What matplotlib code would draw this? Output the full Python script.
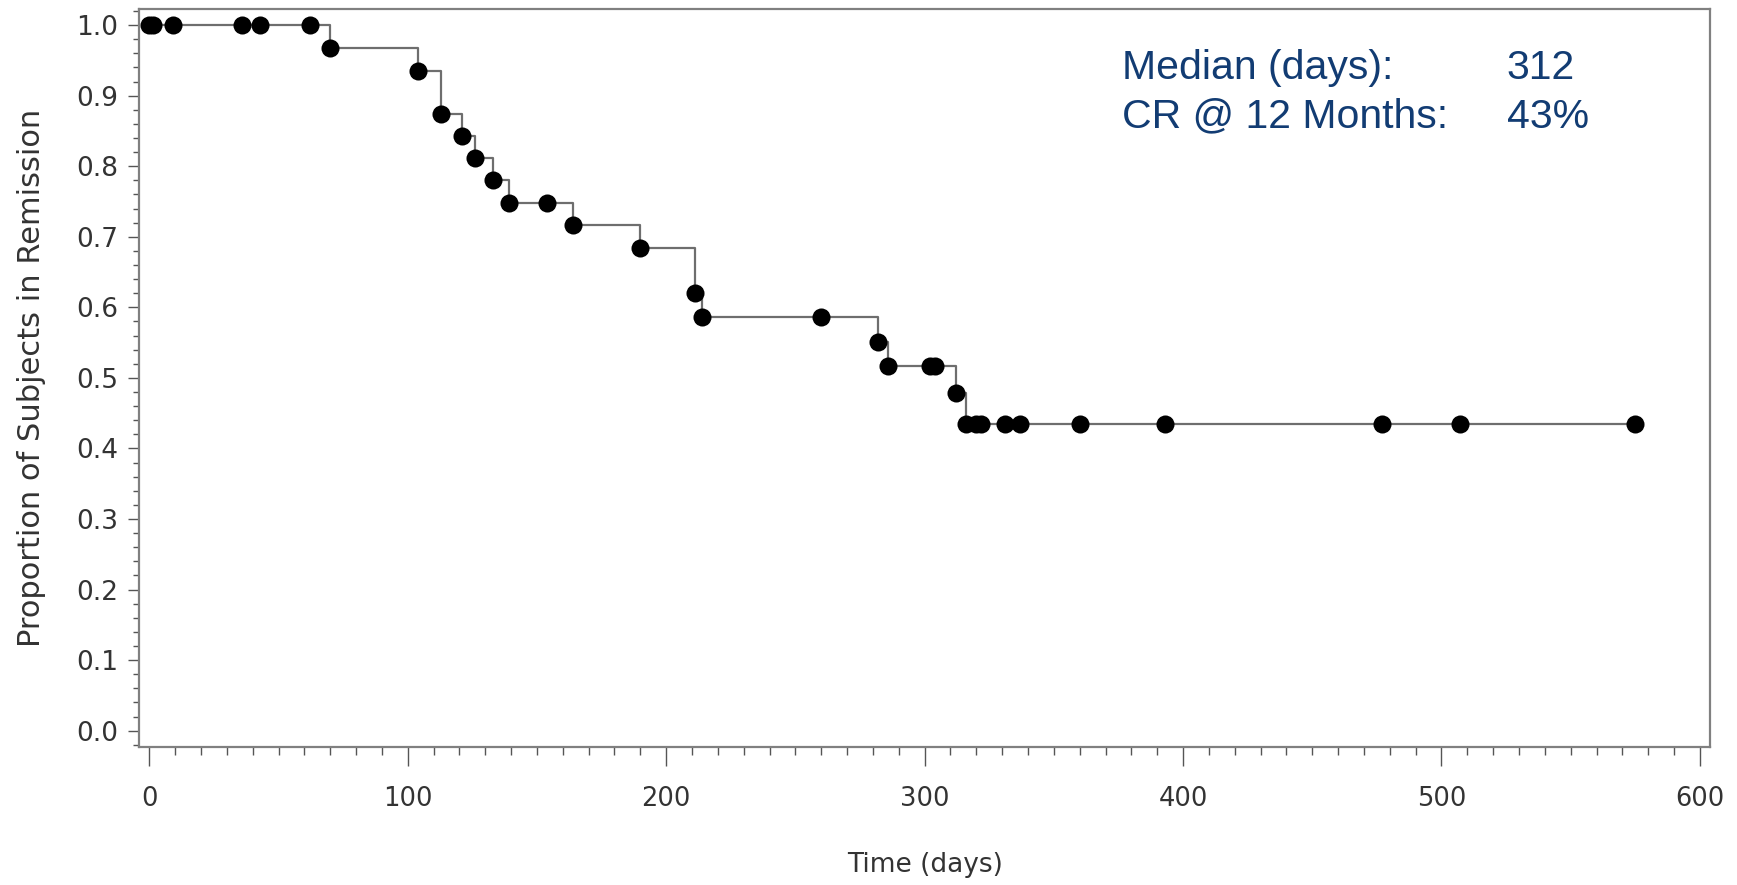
import matplotlib
matplotlib.use("Agg")
import matplotlib.pyplot as plt
from matplotlib.ticker import MultipleLocator

# Observation times (days) and Kaplan-Meier estimate at each observation
times = [0, 1.5, 9, 36, 43, 62, 70, 104, 113, 121, 126, 133, 139, 154, 164,
         190, 211, 214, 260, 282, 286, 302, 304, 312, 316, 320, 322, 331,
         337, 360, 393, 477, 507, 575]
surv = [1.0, 1.0, 1.0, 1.0, 1.0, 1.0, 0.967, 0.935, 0.874, 0.843, 0.811,
        0.780, 0.748, 0.748, 0.716, 0.684, 0.620, 0.586, 0.586, 0.551,
        0.517, 0.517, 0.517, 0.478, 0.434, 0.434, 0.434, 0.434, 0.434,
        0.434, 0.434, 0.434, 0.434, 0.434]

x_ticks = [0, 100, 200, 300, 400, 500, 600]
y_ticks = [0.0, 0.1, 0.2, 0.3, 0.4, 0.5, 0.6, 0.7, 0.8, 0.9, 1.0]

stat_labels = ["Median (days):", "CR @ 12 Months:"]
stat_values = ["312", "43%"]

fig = plt.figure(figsize=(17.37, 8.85), dpi=100)
ax = fig.add_axes([0.0800, 0.1556, 0.9046, 0.8339])

ax.step(times, surv, where="post", color="#6e6e6e", linewidth=1.6, zorder=2)
ax.plot(times, surv, linestyle="none", marker="o", markersize=13,
        markerfacecolor="black", markeredgecolor="black", markeredgewidth=0,
        zorder=3)

ax.set_xlim(-4, 604)
ax.set_ylim(-0.0235, 1.0224)
ax.set_xticks(x_ticks)
ax.set_yticks(y_ticks)
ax.set_yticklabels([f"{v:.1f}" for v in y_ticks])
ax.xaxis.set_minor_locator(MultipleLocator(10))
ax.yaxis.set_minor_locator(MultipleLocator(0.02))

for s in ax.spines.values():
    s.set_color("#808080")
    s.set_linewidth(1.6)

ax.tick_params(axis="x", which="major", direction="out", length=14, width=1.0,
               color="#555555", pad=14, labelsize=18.5, labelcolor="#333333")
ax.tick_params(axis="x", which="minor", direction="out", length=6, width=1.0,
               color="#555555")
ax.tick_params(axis="y", which="major", direction="out", length=8, width=1.0,
               color="#555555", pad=7, labelsize=19, labelcolor="#333333")
ax.tick_params(axis="y", which="minor", direction="out", length=4, width=1.0,
               color="#555555")

ax.set_xlabel("Time (days)", fontsize=19, color="#333333", labelpad=29)
ax.set_ylabel("Proportion of Subjects in Remission", fontsize=22,
              color="#333333", labelpad=22)

navy = "#123C73"
for i, (lab, val) in enumerate(zip(stat_labels, stat_values)):
    yy = 0.9051 - i * 0.0655
    ax.text(0.6255, yy, lab, transform=ax.transAxes, fontsize=29.5,
            family="Liberation Sans", color=navy, va="baseline", ha="left")
    ax.text(0.8704, yy, val, transform=ax.transAxes, fontsize=29.5,
            family="Liberation Sans", color=navy, va="baseline", ha="left")

fig.savefig("out.png", dpi=100)
